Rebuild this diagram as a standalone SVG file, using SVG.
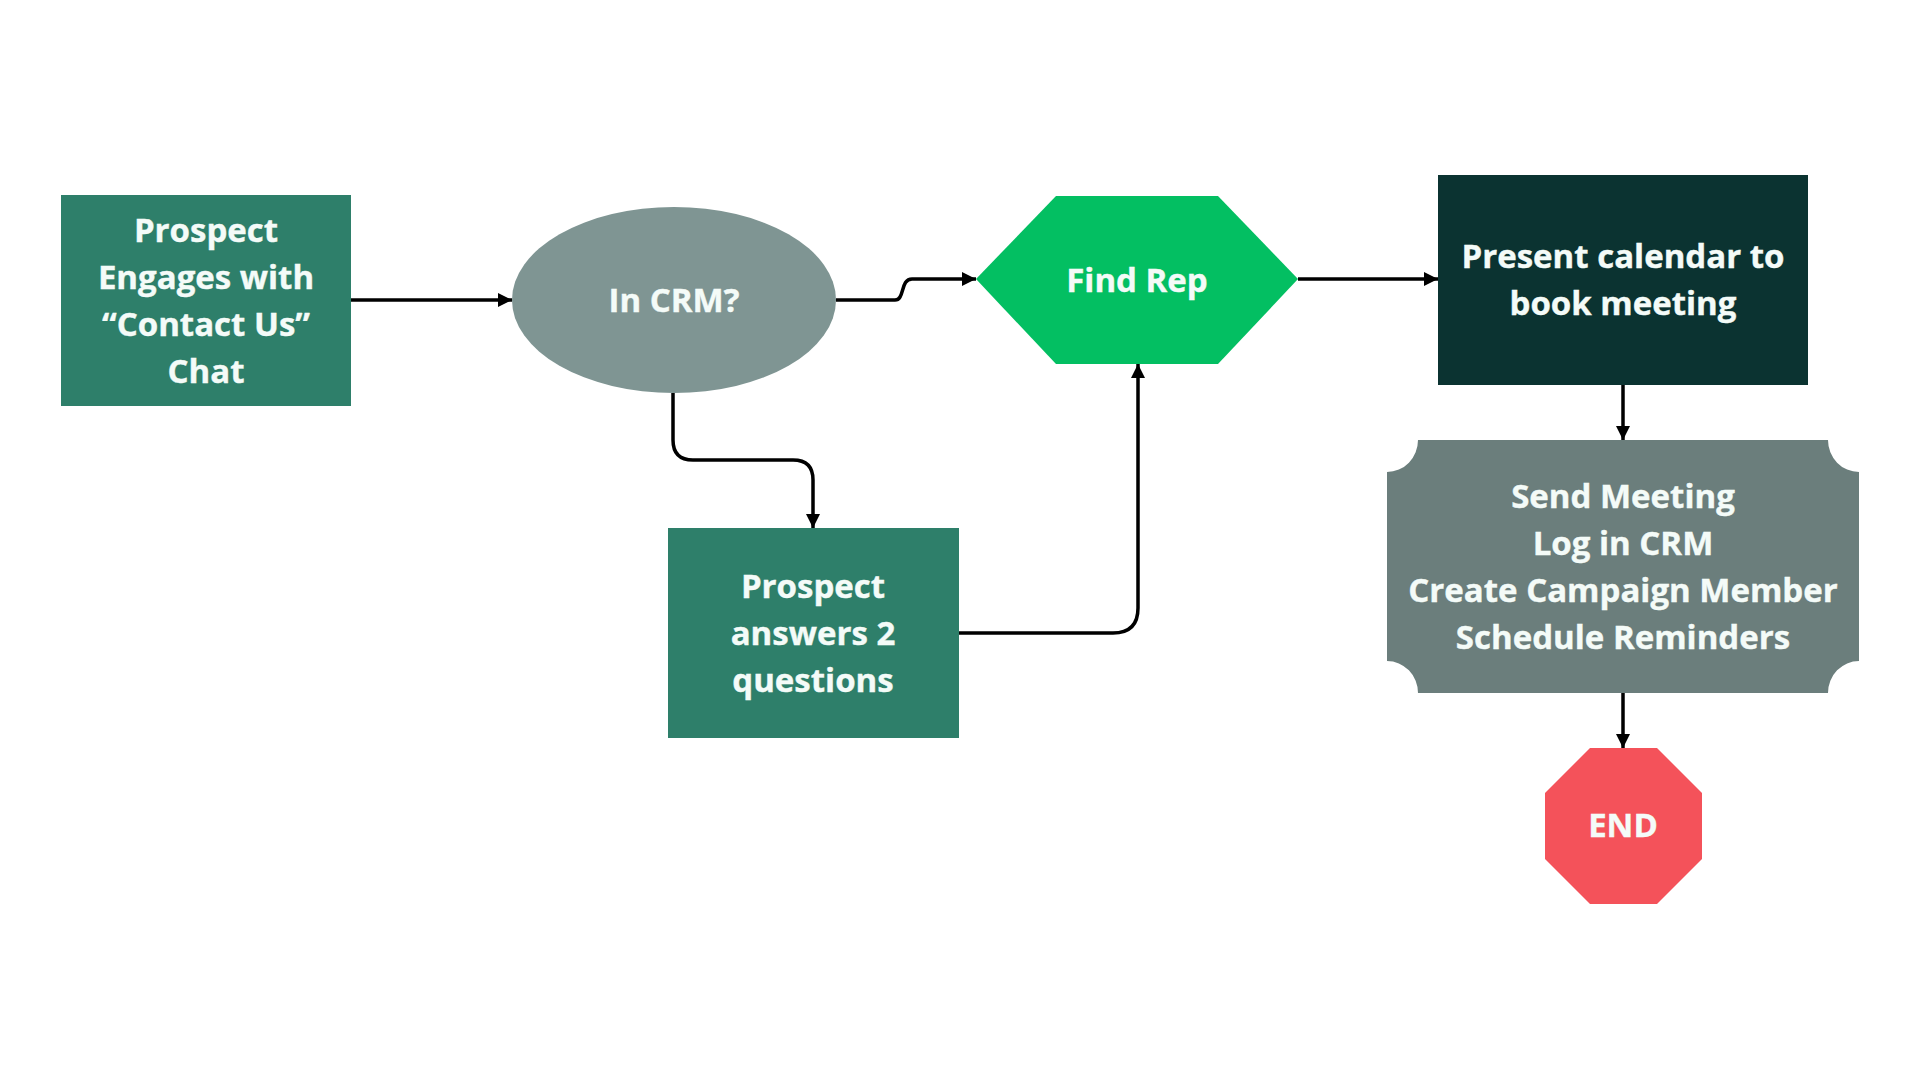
<svg xmlns="http://www.w3.org/2000/svg" width="1920" height="1080" viewBox="0 0 1920 1080">
<defs>
<marker id="ah" markerUnits="userSpaceOnUse" markerWidth="16" markerHeight="16" refX="14" refY="8" orient="auto">
<path d="M0,1 L14,8 L0,15 Z" fill="#000"/>
</marker>
<style>
.lbl{font-family:"Open Sans","Liberation Sans",sans-serif;font-weight:700;font-size:33px;fill:#F4FBF8;text-anchor:middle;stroke:#F4FBF8;stroke-width:0.4}
.conn{fill:none;stroke:#000;stroke-width:3.5;marker-end:url(#ah)}
</style>
</defs>
<rect width="1920" height="1080" fill="#fff"/>
<g id="n-engage">
<rect x="61" y="195" width="290" height="211" fill="#2E7F6A"/>
<text class="lbl"><tspan x="206" y="242">Prospect</tspan><tspan x="206" y="289">Engages with</tspan><tspan x="206" y="336">“Contact Us”</tspan><tspan x="206" y="383">Chat</tspan></text>
</g>
<g id="n-incrm">
<ellipse cx="674" cy="300" rx="162" ry="93" fill="#7F9593"/>
<text class="lbl" x="674" y="312">In CRM?</text>
</g>
<g id="n-findrep">
<polygon points="976,279 1056,196 1218,196 1298,279 1218,364 1056,364" fill="#03BF62"/>
<text class="lbl" x="1137" y="292">Find Rep</text>
</g>
<g id="n-calendar">
<rect x="1438" y="175" width="370" height="210" fill="#0B3331"/>
<text class="lbl"><tspan x="1623" y="268">Present calendar to</tspan><tspan x="1623" y="315">book meeting</tspan></text>
</g>
<g id="n-questions">
<rect x="668" y="528" width="291" height="210" fill="#2E7F6A"/>
<text class="lbl"><tspan x="813" y="598">Prospect</tspan><tspan x="813" y="645">answers 2</tspan><tspan x="813" y="692">questions</tspan></text>
</g>
<g id="n-send">
<path d="M1418,440 H1828 A31,32 0 0 0 1859,472 V661 A31,32 0 0 0 1828,693 H1418 A31,32 0 0 0 1387,661 V472 A31,32 0 0 0 1418,440 Z" fill="#6B7E7C"/>
<text class="lbl"><tspan x="1623" y="508">Send Meeting</tspan><tspan x="1623" y="555">Log in CRM</tspan><tspan x="1623" y="602">Create Campaign Member</tspan><tspan x="1623" y="649">Schedule Reminders</tspan></text>
</g>
<g id="n-end">
<polygon points="1590,748 1657,748 1702,793 1702,859 1657,904 1590,904 1545,859 1545,793" fill="#F4525A"/>
<text class="lbl" x="1623" y="837">END</text>
</g>
<g id="connectors">
<path class="conn" d="M351,300 H512"/>
<path class="conn" d="M836,300 H895 C905,300 900,279 912,279 H976"/>
<path class="conn" d="M1298,279 H1438"/>
<path class="conn" d="M673,393 V440 Q673,460 693,460 H793 Q813,460 813,480 V528"/>
<path class="conn" d="M959,633 H1113 Q1138,633 1138,608 V364"/>
<path class="conn" d="M1623,385 V440"/>
<path class="conn" d="M1623,693 V748"/>
</g>
</svg>
